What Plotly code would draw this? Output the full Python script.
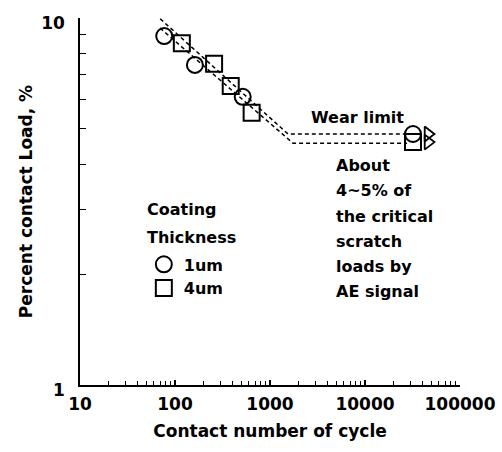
import plotly.graph_objects as go

# ---- data ----
x_1um = [77, 162, 516, 32000]
y_1um = [8.93, 7.45, 6.10, 4.83]
x_4um = [118, 258, 386, 641, 32000]
y_4um = [8.53, 7.51, 6.53, 5.52, 4.59]
x_runout = [46000, 46000]
y_runout = [4.83, 4.59]
upper_x = [61.5, 1546, 27700]
upper_y = [10.25, 4.83, 4.83]
lower_x = [69.5, 1746, 27700]
lower_y = [9.39, 4.56, 4.56]

x_ticks = [10, 100, 1000, 10000, 100000]
x_ticktext = ["10", "100", "1000", "10000", "100000"]
y_ticks = [1, 10]
y_ticktext = ["1", "10"]
about_lines = ["About", "4~5% of", "the critical", "scratch", "loads by", "AE signal"]

minor_x = [m * d for d in (10, 100, 1000, 10000) for m in range(2, 10)]
minor_y = [m for m in range(2, 10)]

FONT = dict(family="DejaVu Sans", size=16, color="black", weight="bold")

fig = go.Figure()
fig.add_trace(go.Scatter(x=upper_x, y=upper_y, mode="lines", showlegend=False,
                         line=dict(color="black", width=1.5, dash="4px,3px")))
fig.add_trace(go.Scatter(x=lower_x, y=lower_y, mode="lines", showlegend=False,
                         line=dict(color="black", width=1.5, dash="4px,3px")))
fig.add_trace(go.Scatter(x=x_1um, y=y_1um, mode="markers", name="1um",
                         marker=dict(symbol="circle-open", size=16, color="black",
                                     line=dict(width=2, color="black"))))
fig.add_trace(go.Scatter(x=x_4um, y=y_4um, mode="markers", name="4um",
                         marker=dict(symbol="square-open", size=16, color="black",
                                     line=dict(width=2, color="black"))))
fig.add_trace(go.Scatter(x=x_runout, y=y_runout, mode="markers", showlegend=False,
                         marker=dict(symbol="triangle-right-open", size=13, color="black",
                                     line=dict(width=1.8, color="black"))))

annotations = [
    dict(text="Wear limit", x=0.729, y=0.730, xanchor="center", yanchor="middle"),
    dict(text="Coating", x=0.171, y=0.477, xanchor="left", yanchor="middle"),
    dict(text="Thickness", x=0.171, y=0.403, xanchor="left", yanchor="middle"),
]
about_y = [0.597, 0.529, 0.460, 0.392, 0.324, 0.256]
for t, yy in zip(about_lines, about_y):
    annotations.append(dict(text=t, x=0.668, y=yy, xanchor="left", yanchor="middle"))
for a in annotations:
    a.update(xref="paper", yref="paper", showarrow=False, font=FONT)

fig.update_layout(
    width=502, height=452, autosize=False,
    margin=dict(l=80, r=42, t=18, b=67),
    paper_bgcolor="white", plot_bgcolor="white",
    font=FONT,
    annotations=annotations,
    legend=dict(x=0.168, y=0.375, xanchor="left", yanchor="top",
                bgcolor="rgba(0,0,0,0)", font=FONT, itemwidth=30,
                tracegroupgap=0),
)
fig.update_xaxes(
    type="log", range=[1, 5], tickmode="array", tickvals=x_ticks, ticktext=x_ticktext,
    ticks="inside", ticklen=5, tickwidth=1.5, tickcolor="black",
    showline=True, linewidth=1.5, linecolor="black", showgrid=False, zeroline=False,
    mirror=False, ticklabelstandoff=3, automargin=False,
    tickfont=dict(family="DejaVu Sans", size=17, color="black", weight="bold"),
    minor=dict(tickmode="array", tickvals=minor_x, ticks="inside", ticklen=4,
               tickwidth=1.2, tickcolor="black", showgrid=False),
    title=dict(text="Contact number of cycle", standoff=12,
               font=dict(family="DejaVu Sans", size=17, color="black", weight="bold")),
)
fig.update_yaxes(
    type="log", range=[0, 1], tickmode="array", tickvals=y_ticks, ticktext=y_ticktext,
    ticks="inside", ticklen=6, tickwidth=1.5, tickcolor="black",
    showline=True, linewidth=1.5, linecolor="black", showgrid=False, zeroline=False,
    ticklabelstandoff=10, ticklabelshift=5, automargin=False,
    tickfont=dict(family="DejaVu Sans", size=17, color="black", weight="bold"),
    minor=dict(tickmode="array", tickvals=minor_y, ticks="inside", ticklen=6,
               tickwidth=1.2, tickcolor="black", showgrid=False),
    title=dict(text="Percent contact Load, %", standoff=4,
               font=dict(family="DejaVu Sans", size=17, color="black", weight="bold")),
)

fig.write_html("out.html")
